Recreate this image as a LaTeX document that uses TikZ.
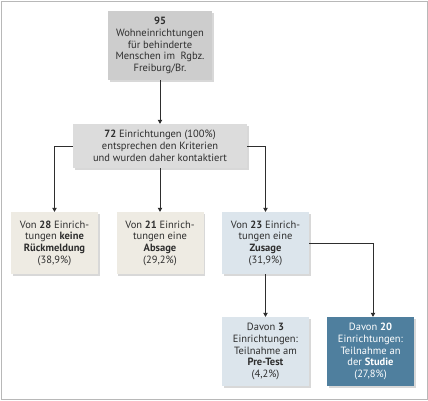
\documentclass[tikz,border=0pt]{standalone}
\usepackage{fontspec}
\setmainfont{PT Sans}
\usetikzlibrary{arrows.meta,shadows}
\definecolor{framegray}{HTML}{B8B8B8}
\definecolor{topgray}{HTML}{CDCDCD}
\definecolor{midgray}{HTML}{DCDCDC}
\definecolor{beige}{HTML}{EEEBE3}
\definecolor{lightblue}{HTML}{DCE5EC}
\definecolor{darkblue}{HTML}{4F7F9E}
\definecolor{textdark}{HTML}{2E2E2E}
\begin{document}
\begin{tikzpicture}[x=1pt,y=-1pt]
\tikzstyle{box}=[draw=none,align=center,inner sep=0pt,text=textdark,font=\fontsize{10.5}{11.7}\selectfont,drop shadow={shadow xshift=1.6pt,shadow yshift=-1.6pt,fill=black!30}]
\tikzstyle{small}=[box,minimum width=87pt,minimum height=62pt]
\tikzstyle{tall}=[box,minimum width=87pt,minimum height=69pt]
\tikzstyle{flow}=[draw=textdark,line width=0.7pt,-{Triangle[length=4pt,width=4.5pt]}]
% end of definitions
\useasboundingbox (0,0) rectangle (428,400);
\draw[framegray, line width=0.8pt] (1,1) rectangle (427,399); %frame
\node[box,fill=topgray,minimum width=104pt,minimum height=69pt] (total) at (160,45.5)
  {\textbf{95}\\Wohneinrichtungen\\für behinderte\\Menschen im\ \ Rgbz.\\Freiburg/Br.};
\node[box,fill=midgray,minimum width=174pt,minimum height=44pt] (contacted) at (160,146)
  {\textbf{72} Einrichtungen (100\%)\\entsprechen den Kriterien\\und wurden daher kontaktiert};
\node[small,fill=beige] (noreply) at (54.5,243)
  {Von \textbf{28} Einrich-\\tungen \textbf{keine}\\\textbf{Rückmeldung}\\(38,9\%)};
\node[small,fill=beige] (declined) at (160,243)
  {Von \textbf{21} Einrich-\\tungen eine\\\textbf{Absage}\\(29,2\%)};
\node[small,fill=lightblue] (accepted) at (265.5,243)
  {Von \textbf{23} Einrich-\\tungen eine\\\textbf{Zusage}\\(31,9\%)};
\node[tall,fill=lightblue] (pretest) at (265.5,351.5)
  {Davon \textbf{3}\\Einrichtungen:\\Teilnahme am\\\textbf{Pre-Test}\\(4,2\%)};
\node[tall,fill=darkblue,text=white] (study) at (370.5,351.5)
  {Davon \textbf{20}\\Einrichtungen:\\Teilnahme an\\der \textbf{Studie}\\(27,8\%)};
\draw[flow] (total) -- (contacted);
\draw[flow] (contacted.west) -| (noreply.north);
\draw[flow] (contacted) -- (declined);
\draw[flow] (contacted.east) -| (accepted.north);
\draw[flow] (accepted) -- (pretest);
\draw[flow] (accepted.east) -| ([xshift=2.5pt]study.north);
\end{tikzpicture}
\end{document}
